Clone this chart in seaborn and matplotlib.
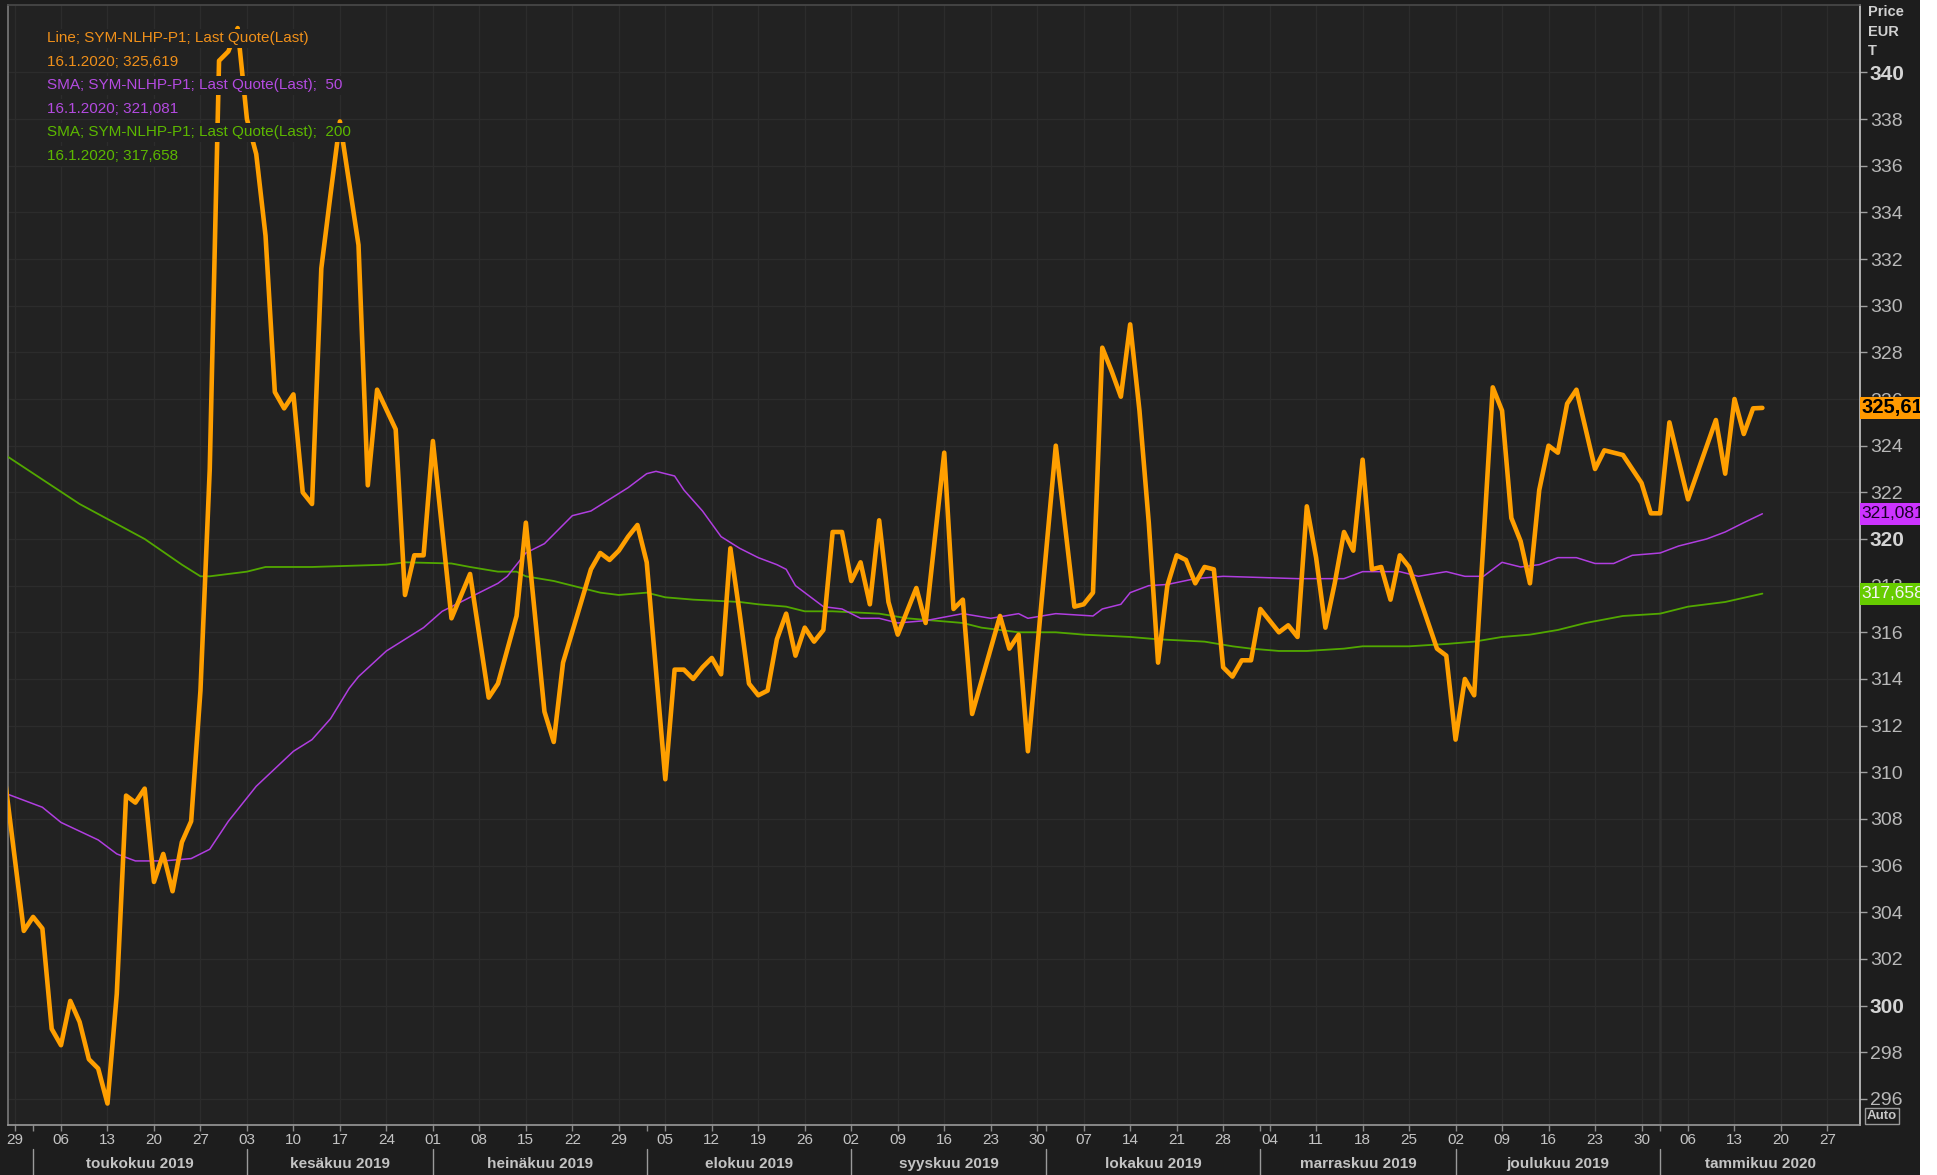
import numpy as np
import matplotlib
matplotlib.use("Agg")
import matplotlib.pyplot as plt
import matplotlib.transforms as mtransforms
from matplotlib.patches import Rectangle
import seaborn as sns

# x = trading session number (Mon-Fri) counted from 29.4.2019 = 0
first_session = "2019-04-29"

price_day = [-1, 0, 1, 2, 3, 4, 5, 6, 7, 8, 9, 10, 11, 12, 13, 14, 15, 16, 17, 18,
             19, 20, 21, 22, 23, 24, 25, 26, 27, 28, 29, 30, 31, 32, 33, 34, 35, 37, 38, 39,
             41, 42, 43, 44, 45, 47, 49, 51, 52, 54, 55, 57, 58, 59, 62, 63, 64, 65, 66, 67,
             68, 70, 71, 72, 73, 74, 75, 76, 77, 78, 79, 80, 81, 82, 83, 84, 85, 86, 87, 88,
             89, 90, 91, 92, 93, 94, 95, 97, 98, 100, 101, 102, 103, 106, 107, 108, 109, 112, 114, 115,
             116, 117, 118, 119, 120, 121, 122, 123, 124, 125, 126, 127, 128, 129, 130, 131, 132, 133, 134, 135,
             136, 137, 138, 139, 140, 141, 142, 143, 144, 145, 146, 147, 148, 149, 150, 153, 154, 155, 156, 157,
             159, 160, 161, 162, 163, 164, 165, 166, 167, 168, 170, 171, 172, 173, 174, 175, 176, 177, 178, 180,
             183, 184, 185, 186, 187, 188]
price_val = [309.6, 306.4, 303.2, 303.8, 303.3, 299.0, 298.3, 300.2, 299.3, 297.7, 297.3, 295.8, 300.5, 309.0, 308.7, 309.3, 305.3, 306.5, 304.9, 307.0,
             307.9, 313.5, 323.0, 340.5, 340.9, 341.9, 338.0, 336.5, 333.0, 326.3, 325.6, 326.2, 322.0, 321.5, 331.6, 334.8, 337.9, 332.6, 322.3, 326.4,
             324.7, 317.6, 319.3, 319.3, 324.2, 316.6, 318.5, 313.2, 313.8, 316.7, 320.7, 312.6, 311.3, 314.7, 318.7, 319.4, 319.1, 319.5, 320.1, 320.6,
             319.0, 309.7, 314.4, 314.4, 314.0, 314.5, 314.9, 314.2, 319.6, 316.8, 313.8, 313.3, 313.5, 315.7, 316.8, 315.0, 316.2, 315.6, 316.1, 320.3,
             320.3, 318.2, 319.0, 317.2, 320.8, 317.3, 315.9, 317.9, 316.4, 323.7, 317.0, 317.4, 312.5, 316.7, 315.3, 315.9, 310.9, 324.0, 317.1, 317.2,
             317.7, 328.2, 327.2, 326.1, 329.2, 325.5, 320.7, 314.7, 318.0, 319.3, 319.1, 318.1, 318.8, 318.7, 314.5, 314.1, 314.8, 314.8, 317.0, 316.5,
             316.0, 316.3, 315.8, 321.4, 319.2, 316.2, 318.1, 320.3, 319.5, 323.4, 318.7, 318.8, 317.4, 319.3, 318.8, 315.3, 315.0, 311.4, 314.0, 313.3,
             326.5, 325.5, 320.9, 319.9, 318.1, 322.1, 324.0, 323.7, 325.8, 326.4, 323.0, 323.8, 323.7, 323.6, 323.0, 322.4, 321.1, 321.1, 325.0, 321.7,
             325.1, 322.8, 326.0, 324.5, 325.6, 325.619]

sma50_day = [-1, 3, 5, 9, 11, 13, 16, 19, 21, 23, 26, 30, 32, 34, 36, 37, 40, 42, 44, 46,
             48, 50, 52, 53, 55, 57, 58, 60, 62, 64, 66, 68, 69, 71, 72, 74, 76, 78, 80, 82,
             83, 84, 86, 87, 89, 91, 93, 95, 98, 102, 105, 108, 109, 112, 116, 117, 119, 120, 122, 124,
             127, 130, 138, 143, 145, 149, 151, 154, 156, 158, 160, 162, 164, 166, 168, 170, 172, 174, 177, 179,
             182, 184, 186, 188]
sma50_val = [309.1, 308.5, 307.85, 307.1, 306.5, 306.2, 306.2, 306.3, 306.7, 307.9, 309.4, 310.9, 311.4, 312.3, 313.6, 314.1, 315.2, 315.7, 316.2, 316.9,
             317.3, 317.7, 318.1, 318.4, 319.4, 319.8, 320.2, 321.0, 321.2, 321.7, 322.2, 322.8, 322.9, 322.7, 322.1, 321.2, 320.1, 319.6, 319.2, 318.9,
             318.7, 318.0, 317.4, 317.1, 317.0, 316.6, 316.6, 316.4, 316.5, 316.8, 316.6, 316.8, 316.6, 316.8, 316.7, 317.0, 317.2, 317.7, 318.0, 318.05,
             318.3, 318.4, 318.3, 318.3, 318.6, 318.6, 318.4, 318.6, 318.4, 318.4, 319.0, 318.8, 318.9, 319.2, 319.2, 318.95, 318.95, 319.3, 319.4, 319.7,
             320.0, 320.3, 320.7, 321.081]

sma200_day = [-1, 7, 14, 18, 20, 21, 25, 27, 32, 40, 42, 47, 49, 52, 54, 55, 58, 60, 63, 65,
              68, 70, 73, 78, 80, 83, 85, 88, 93, 96, 99, 102, 104, 108, 112, 115, 120, 123, 128, 131,
              133, 136, 139, 143, 145, 150, 154, 157, 160, 163, 166, 169, 173, 177, 180, 184, 188]
sma200_val = [323.6, 321.5, 320.0, 318.9, 318.4, 318.4, 318.6, 318.8, 318.8, 318.9, 319.0, 318.95, 318.8, 318.6, 318.6, 318.4, 318.2, 318.0, 317.7, 317.6,
              317.7, 317.5, 317.4, 317.3, 317.2, 317.1, 316.9, 316.9, 316.8, 316.6, 316.5, 316.4, 316.2, 316.0, 316.0, 315.9, 315.8, 315.7, 315.6, 315.4,
              315.3, 315.2, 315.2, 315.3, 315.4, 315.4, 315.5, 315.6, 315.8, 315.9, 316.1, 316.4, 316.7, 316.8, 317.1, 317.3, 317.658]

y_ticks = list(range(296, 341, 2))
bold_ticks = [300, 320, 340]
week_ticks = list(range(0, 196, 5))
month_first = ["2019-05-01", "2019-06-01", "2019-07-01", "2019-08-01", "2019-09-01",
               "2019-10-01", "2019-11-01", "2019-12-01", "2020-01-01"]
month_names = ["toukokuu 2019", "kesäkuu 2019", "heinäkuu 2019", "elokuu 2019", "syyskuu 2019",
               "lokakuu 2019", "marraskuu 2019", "joulukuu 2019", "tammikuu 2020"]
legend_rows = ["Line; SYM-NLHP-P1; Last Quote(Last)", "16.1.2020; 325,619",
               "SMA; SYM-NLHP-P1; Last Quote(Last);  50", "16.1.2020; 321,081",
               "SMA; SYM-NLHP-P1; Last Quote(Last);  200", "16.1.2020; 317,658"]
last_labels = ["325,619", "321,081", "317,658"]
last_values = [325.619, 321.081, 317.658]

ORANGE = "#ff9f00"
PURPLE = "#b03ee0"
GREEN = "#52a800"
AX_BG = "#222222"
FIG_BG = "#1d1d1d"
GRID = "#2c2c2c"
TXT = "#c4c4c4"

sns.set_theme(style="dark", rc={"axes.facecolor": AX_BG, "figure.facecolor": FIG_BG})
plt.rcParams["font.family"] = ["Liberation Sans", "DejaVu Sans"]

W, H = 1937, 1175
fig = plt.figure(figsize=(W / 100, H / 100), dpi=100)
ax = fig.add_axes([8 / W, 50 / H, 1852 / W, 1120 / H])
ax.set_facecolor(AX_BG)

sns.lineplot(x=sma200_day, y=sma200_val, ax=ax, color=GREEN, linewidth=1.3, zorder=3, legend=False)
sns.lineplot(x=sma50_day, y=sma50_val, ax=ax, color=PURPLE, linewidth=1.1, zorder=3, legend=False)
sns.lineplot(x=price_day, y=price_val, ax=ax, color=ORANGE, linewidth=3.3, zorder=4, legend=False)

xmax = 198.5
ax.set_xlim(-0.7, xmax)
ax.set_ylim(294.88, 342.89)
ax.set_xlabel("")
ax.set_ylabel("")

# grid
ax.set_xticks(week_ticks)
ax.set_yticks(y_ticks)
ax.grid(True, which="major", color=GRID, linewidth=1.0)
ax.set_axisbelow(True)

month_sessions = [int(np.busday_count(first_session, np.busday_offset(m, 0, roll="forward")))
                  for m in month_first]
ax.axvline(month_sessions[-1], color="#303030", linewidth=1.8, zorder=1)

# bottom axis: day numbers + month row
day_labels = [str(d)[-2:] for d in np.busday_offset(first_session, week_ticks)]
ax.set_xticklabels(day_labels)
ax.set_xticks(month_sessions, minor=True)
ax.tick_params(axis="x", which="both", bottom=True, length=4, width=1, color="#8a8a8a",
               direction="out", pad=2, labelsize=11, labelcolor=TXT)

edges = month_sessions + [xmax]
for i, name in enumerate(month_names):
    ax.axvline(month_sessions[i], ymin=-0.045, ymax=-0.0215, clip_on=False, color="#9a9a9a", linewidth=1)
    center = (edges[i] + edges[i + 1]) / 2
    ax.text(center, -0.0348, name, transform=ax.get_xaxis_transform(), ha="center", va="center",
            fontsize=11, fontweight="bold", color=TXT)

# right price axis
ax.yaxis.tick_right()
ax.set_yticklabels([str(t) for t in y_ticks])
ax.tick_params(axis="y", which="major", right=True, left=False, length=5, width=1,
               color="#a0a0a0", labelcolor="#b8b8b8", labelsize=14, pad=2)
for lbl, t in zip(ax.get_yticklabels(), y_ticks):
    if t in bold_ticks:
        lbl.set_fontweight("bold")
        lbl.set_fontsize(15)
        lbl.set_color("#d4d4d4")

for side, col in [("top", "#4a4a4a"), ("left", "#7a7a7a"), ("bottom", "#9a9a9a"), ("right", "#c8c8c8")]:
    ax.spines[side].set_visible(True)
    ax.spines[side].set_color(col)
    ax.spines[side].set_linewidth(1.2)

# legend block
row_colors = ["#f0901a", "#f0901a", "#b44be1", "#b44be1", "#5cb800", "#5cb800"]
for k, (row, c) in enumerate(zip(legend_rows, row_colors)):
    ax.text(0.0209, 1 - (33.3 + 23.5 * k) / 1120, row, transform=ax.transAxes, color=c,
            fontsize=11, ha="left", va="center", zorder=6,
            bbox=dict(facecolor=AX_BG, edgecolor="none", pad=2))

# last value boxes on the price axis
trans = mtransforms.blended_transform_factory(ax.transAxes, ax.transData)
box_colors = ["#ff9900", "#cc33ff", "#66cc00"]
box_text = ["#000000", "#1a0026", "#f4f4f4"]
box_weight = ["bold", "normal", "normal"]
box_size = [14.5, 12.5, 12.5]
for lab, val, bc, tc, wt, fs in zip(last_labels, last_values, box_colors, box_text, box_weight, box_size):
    ax.add_patch(Rectangle((1.0, val - 0.47), 62 / 1852, 0.94, transform=trans, clip_on=False,
                           facecolor=bc, edgecolor="none", zorder=7))
    ax.text(1.0 + 1.5 / 1852, val, lab, transform=trans, ha="left", va="center", fontsize=fs,
            fontweight=wt, color=tc, zorder=8, clip_on=False)

fig.text(1868 / W, 1 - 5 / H, "Price\nEUR\nT", ha="left", va="top", fontsize=10.5, fontweight="bold",
         color="#d0d0d0", linespacing=1.5)
fig.text(1867 / W, 1 - 1116 / H, "Auto", ha="left", va="center", fontsize=9.5, fontweight="bold",
         color="#c8c8c8", bbox=dict(facecolor="none", edgecolor="#9a9a9a", pad=1.2, linewidth=1))

fig.add_artist(Rectangle((1920 / W, 0), 17 / W, 1, transform=fig.transFigure,
                         facecolor="white", edgecolor="none", zorder=20))

fig.savefig("out.png", dpi=100, facecolor=fig.get_facecolor())
